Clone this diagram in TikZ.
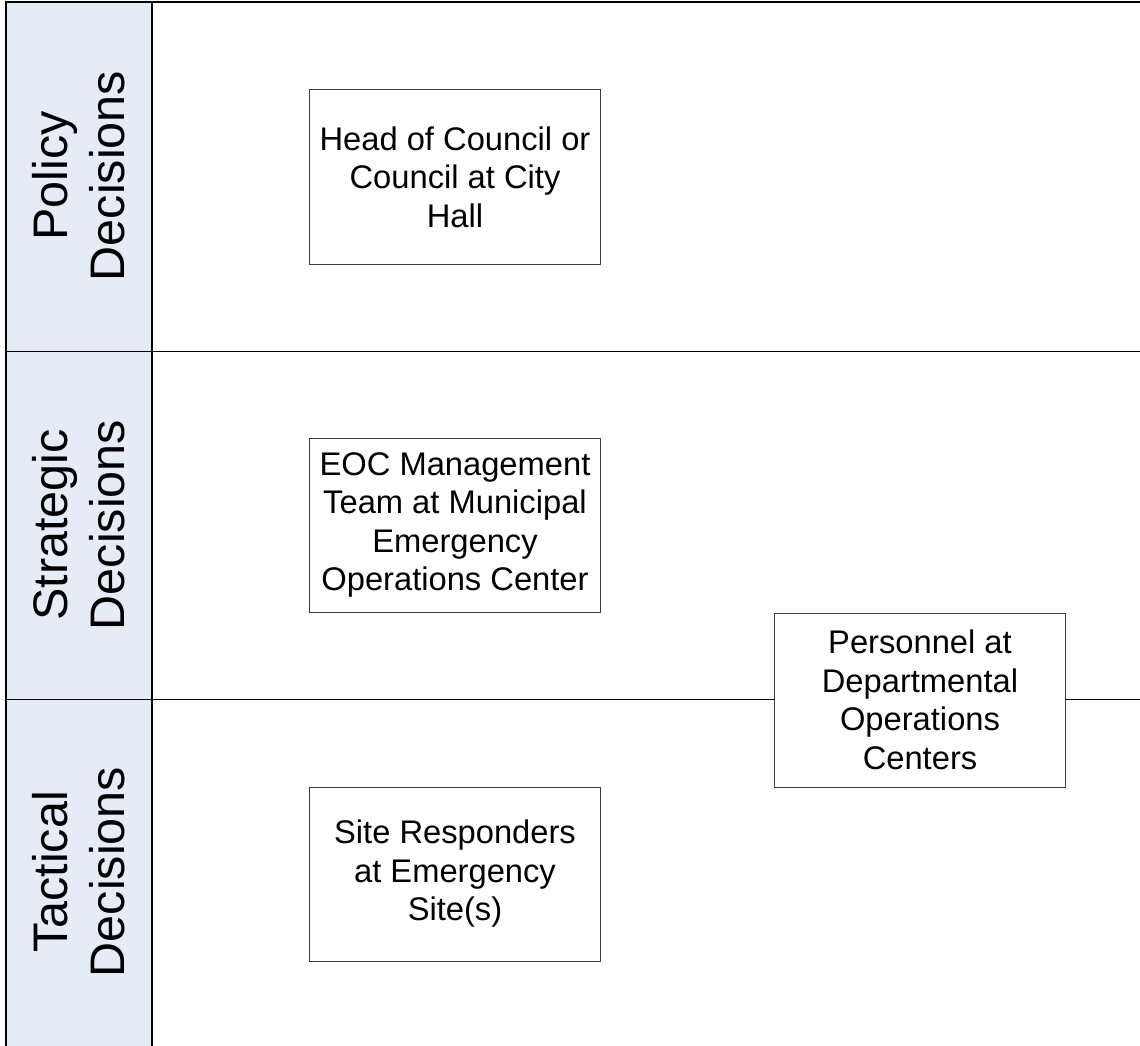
\documentclass[tikz,border=0pt]{standalone}
\usepackage{fontspec}
\setmainfont{Liberation Sans}
\definecolor{sidefill}{RGB}{230,236,246}
\definecolor{boxline}{RGB}{60,60,60}
\begin{document}
\begin{tikzpicture}[x=1pt,y=-1pt,
  lane/.style={rotate=90,align=center,inner sep=0pt,font=\fontsize{48.5}{57}\selectfont},
  box/.style={draw=boxline,line width=1pt,fill=white,minimum width=291pt,minimum height=174pt,
    align=center,inner sep=0pt,font=\fontsize{32.7}{38.5}\selectfont},
  laneline/.style={line width=1.4pt,black}]
\useasboundingbox (0,0) rectangle (1140,1046);
\fill[sidefill] (7,3) rectangle (152,1046);
\draw[laneline] (6,351.5) -- (1140,351.5);
\draw[laneline] (6,699.5) -- (1140,699.5);
\draw[line width=1.4pt] (152,3) -- (152,1046);
\draw[line width=2.5pt] (6,1046) -- (6,2) -- (1140,2);
\node[lane] (policy) at (79,176) {Policy\\Decisions};
\node[lane] (strategic) at (79,525) {Strategic\\Decisions};
\node[lane] (tactical) at (79,872) {Tactical\\Decisions};
\node[box] (council) at (455,177) {Head of Council or\\Council at City\\Hall};
\node[box] (eoc) at (455,525) {EOC Management\\Team at Municipal\\Emergency\\Operations Center};
\node[box] (site) at (455,874) {Site Responders\\at Emergency\\Site(s)};
\node[box] (dept) at (920,700) {Personnel at\\Departmental\\Operations\\Centers};
\end{tikzpicture}
\end{document}
